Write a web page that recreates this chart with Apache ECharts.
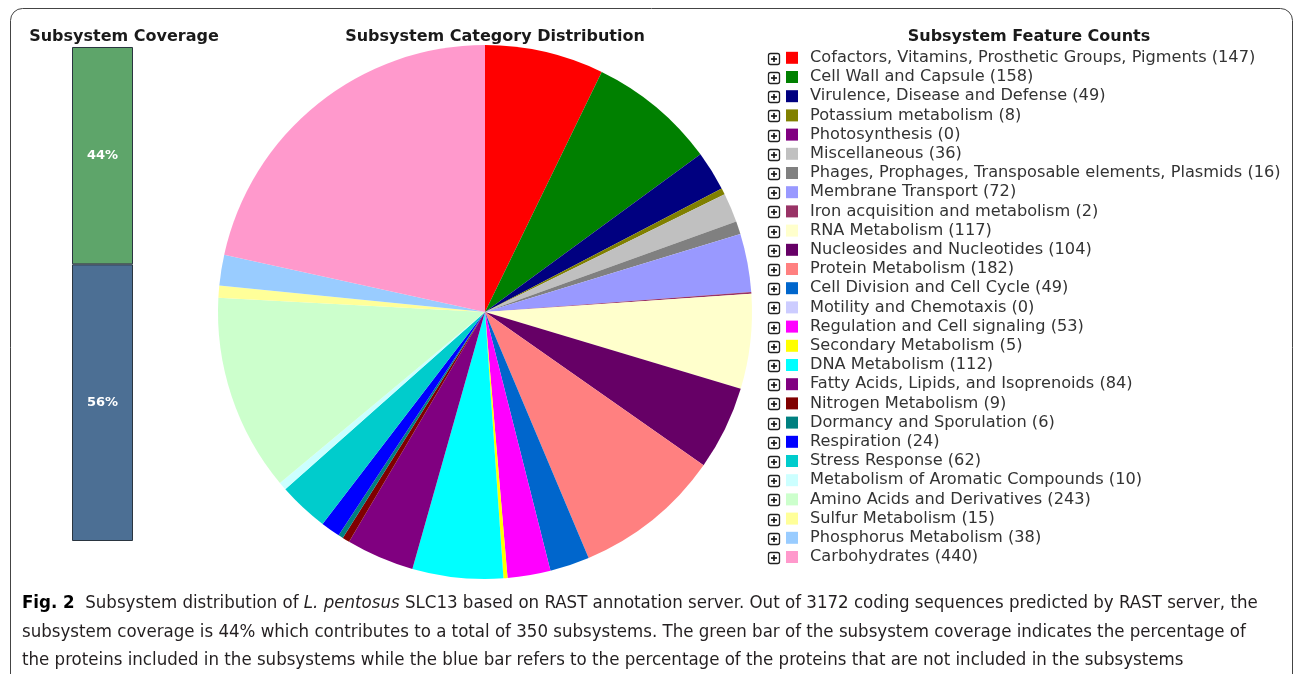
<!DOCTYPE html>
<html><head><meta charset="utf-8">
<script src="https://cdn.jsdelivr.net/npm/echarts@6/dist/echarts.min.js"></script>
<style>html,body{margin:0;padding:0;background:#fff}#c{width:1293px;height:674px}</style>
</head><body><div id="c"></div>
<script>
const categories = ["Cofactors, Vitamins, Prosthetic Groups, Pigments","Cell Wall and Capsule","Virulence, Disease and Defense","Potassium metabolism","Photosynthesis","Miscellaneous","Phages, Prophages, Transposable elements, Plasmids","Membrane Transport","Iron acquisition and metabolism","RNA Metabolism","Nucleosides and Nucleotides","Protein Metabolism","Cell Division and Cell Cycle","Motility and Chemotaxis","Regulation and Cell signaling","Secondary Metabolism","DNA Metabolism","Fatty Acids, Lipids, and Isoprenoids","Nitrogen Metabolism","Dormancy and Sporulation","Respiration","Stress Response","Metabolism of Aromatic Compounds","Amino Acids and Derivatives","Sulfur Metabolism","Phosphorus Metabolism","Carbohydrates"];
const counts = [147,158,49,8,0,36,16,72,2,117,104,182,49,0,53,5,112,84,9,6,24,62,10,243,15,38,440];
const colors = ["#ff0000","#008000","#000080","#808000","#800080","#c0c0c0","#808080","#9999ff","#993366","#ffffcc","#660066","#ff8080","#0066cc","#ccccff","#ff00ff","#ffff00","#00ffff","#800080","#800000","#008080","#0000ff","#00cccc","#ccffff","#ccffcc","#ffff99","#99ccff","#ff99cc"];
const coverageCategory = ["Coverage"];
const coverageIn = [44];
const coverageOut = [56];

const chart = echarts.init(document.getElementById('c'), null, {renderer:'canvas'});
const pieData = categories.map((n,i)=>({name:n, value:counts[i], itemStyle:{color:colors[i]}}));
const valueOf = {}; categories.forEach((n,i)=>valueOf[n]=counts[i]);

const legendTop = 48.2, rowH = 19.2;
const plusBoxes = categories.map((n,i)=>{
  const cy = legendTop + rowH*i + rowH/2;
  return {type:'group', x:768, y:Math.round(cy)-5, children:[
    {type:'rect', shape:{x:0.5,y:0.5,width:11,height:11,r:2}, style:{fill:'#fff',stroke:'#222',lineWidth:1.3}},
    {type:'line', shape:{x1:3,y1:6,x2:9,y2:6}, style:{stroke:'#111',lineWidth:1.6}},
    {type:'line', shape:{x1:6,y1:3,x2:6,y2:9}, style:{stroke:'#111',lineWidth:1.6}}
  ]};
});

const capFont = '"Liberation Sans Narrow","DejaVu Sans Condensed",sans-serif';
const capStyle = {fontFamily:capFont, fontSize:18.5, fill:'#231f20'};
const capRich = {b:{fontFamily:capFont,fontSize:18.5,fontWeight:'bold',fill:'#000'}, i:{fontFamily:capFont,fontSize:18.5,fontStyle:'italic',fill:'#231f20'}};

chart.setOption({
  animation:false,
  title:[
    {text:'Subsystem Coverage', left:119, top:24, textAlign:'center', textStyle:{fontFamily:'DejaVu Sans',fontSize:16,fontWeight:'bold',color:'#1a1a1a'}},
    {text:'Subsystem Category Distribution', left:490, top:24, textAlign:'center', textStyle:{fontFamily:'DejaVu Sans',fontSize:16,fontWeight:'bold',color:'#1a1a1a'}},
    {text:'Subsystem Feature Counts', left:1024, top:24, textAlign:'center', textStyle:{fontFamily:'DejaVu Sans',fontSize:16,fontWeight:'bold',color:'#1a1a1a'}}
  ],
  legend:{
    orient:'vertical', left:786, top:legendTop, itemGap:0, itemWidth:12, itemHeight:12, icon:'rect',
    selectedMode:false, padding:0,
    data:categories,
    formatter:(n)=>n+' ('+valueOf[n]+')',
    textStyle:{fontFamily:'DejaVu Sans',fontSize:16.2,color:'#333',lineHeight:rowH,padding:[0,0,0,7]}
  },
  grid:{left:72,top:47,width:61,height:494},
  xAxis:{type:'category',data:coverageCategory,show:false},
  yAxis:{type:'value',min:0,max:100,show:false},
  series:[
    {type:'bar',stack:'cov',data:coverageOut,barWidth:'100%',itemStyle:{color:'#4c6f94',borderColor:'#2a3540',borderWidth:1},
     label:{show:true,position:'inside',formatter:'{c}%',color:'#fff',fontFamily:'DejaVu Sans',fontWeight:'bold',fontSize:13}},
    {type:'bar',stack:'cov',data:coverageIn,barWidth:'100%',itemStyle:{color:'#5ea56a',borderColor:'#2a3540',borderWidth:1},
     label:{show:true,position:'inside',formatter:'{c}%',color:'#fff',fontFamily:'DejaVu Sans',fontWeight:'bold',fontSize:13}},
    {type:'pie',center:[485,312],radius:[0,267],startAngle:90,clockwise:true,data:pieData,
     label:{show:false},labelLine:{show:false},emphasis:{disabled:true},itemStyle:{borderWidth:0}}
  ],
  graphic:[
    {type:'rect',shape:{x:10.5,y:8.5,width:1282,height:720,r:12},style:{fill:'none',stroke:'#444',lineWidth:1},silent:true},
    ...plusBoxes,
    {type:'text',x:22,y:594,style:Object.assign({text:'{b|Fig. 2}  Subsystem distribution of {i|L. pentosus} SLC13 based on RAST annotation server. Out of 3172 coding sequences predicted by RAST server, the',rich:capRich},capStyle)},
    {type:'text',x:22,y:623,style:Object.assign({text:'subsystem coverage is 44% which contributes to a total of 350 subsystems. The green bar of the subsystem coverage indicates the percentage of'},capStyle)},
    {type:'text',x:22,y:651,style:Object.assign({text:'the proteins included in the subsystems while the blue bar refers to the percentage of the proteins that are not included in the subsystems'},capStyle)}
  ]
});
</script></body></html>
